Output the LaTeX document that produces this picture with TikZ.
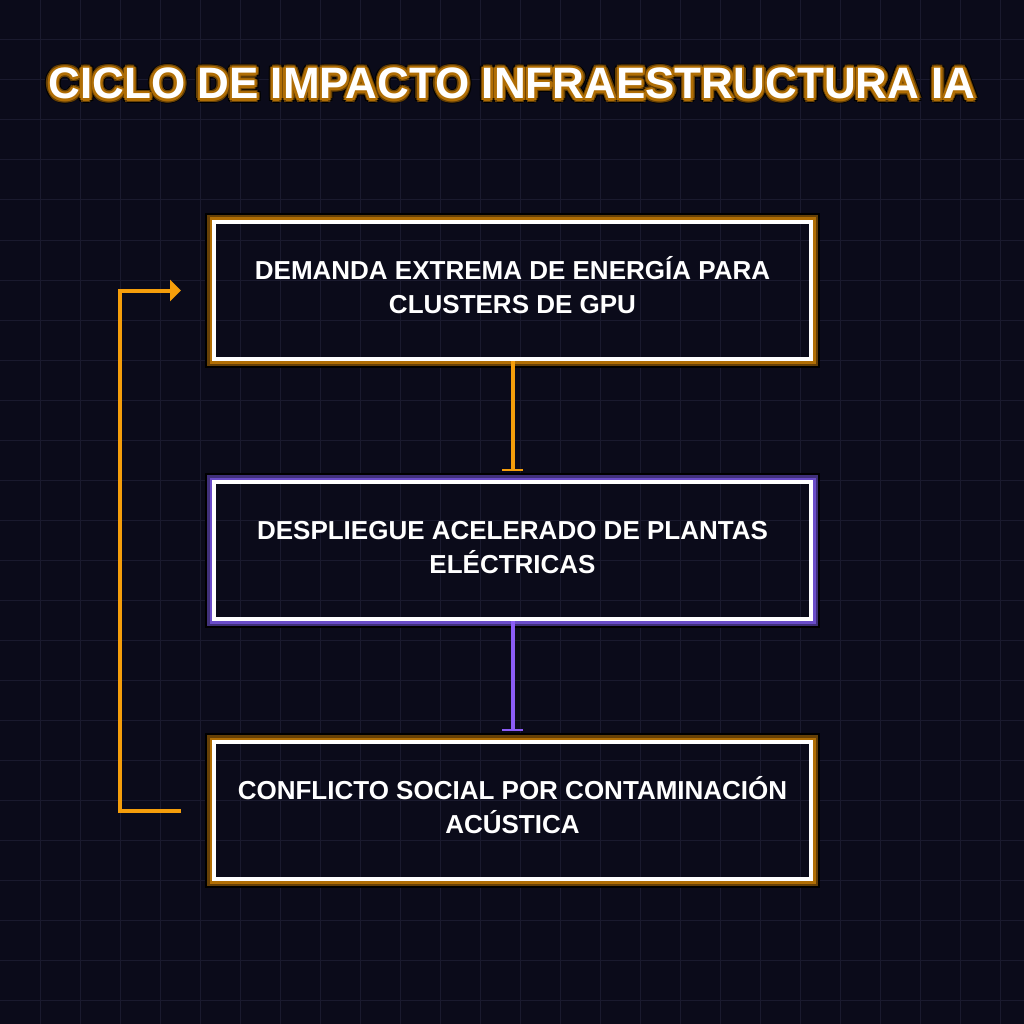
\documentclass[tikz,border=0pt]{standalone}
\usepackage{fontspec}
\setmainfont{Liberation Sans}
\usetikzlibrary{arrows.meta,positioning}

\definecolor{fondo}{HTML}{0B0B1A}
\definecolor{rejilla}{HTML}{1A1A2E}
\definecolor{ambar}{HTML}{F59E0B}
\definecolor{ambarmed}{HTML}{B06E05}
\definecolor{ambaroscuro}{HTML}{664006}
\definecolor{violeta}{HTML}{8B5CF6}
\definecolor{violetamed}{HTML}{6A4CC8}
\definecolor{violetaoscuro}{HTML}{40307A}

\tikzset{
  caja/.style={draw=white, line width=4pt, minimum width=597pt, minimum height=137pt,
    inner sep=0pt, text=white, align=center, text height=52pt, text depth=6.4pt,
    font=\bfseries\fontsize{26}{34}\selectfont},
  titulo/.style={font=\bfseries\fontsize{44}{50}\selectfont, anchor=base, inner sep=0pt},
  flecha/.style={line width=4pt, -{Bar[width=21pt,line width=2pt]}, shorten >=9pt},
}

\begin{document}
\begin{tikzpicture}[x=1pt,y=-1pt]
  \useasboundingbox (0,0) rectangle (1024,1024);
  \fill[fondo] (0,0) rectangle (1024,1024);
  \foreach \g in {40,80,...,1000} {
    \draw[rejilla, line width=1pt] (\g,0) -- (\g,1024);
    \draw[rejilla, line width=1pt] (0,\g) -- (1024,\g);
  }

  % title with halo
  \foreach \r/\c in {4.5/black, 3.5/ambaroscuro, 2.2/ambarmed} {
    \foreach \a in {0,30,...,330}
      \node[titulo, text=\c] (halo-\a) at ([shift={(\a:\r)}]512,99) {CICLO DE IMPACTO INFRAESTRUCTURA IA};
  }
  \node[titulo, text=white] (titulo) at (512,99) {CICLO DE IMPACTO INFRAESTRUCTURA IA};

  % boxes
  \node[caja] (demanda) at (512.5,290.5) {DEMANDA EXTREMA DE ENERGÍA PARA\\CLUSTERS DE GPU};
  \node[caja, below=119pt of demanda] (plantas) {DESPLIEGUE ACELERADO DE PLANTAS\\ELÉCTRICAS};
  \node[caja, below=119pt of plantas] (conflicto) {CONFLICTO SOCIAL POR CONTAMINACIÓN\\ACÚSTICA};

  % glow frames
  \foreach \b/\c/\d in {demanda/ambarmed/ambaroscuro, plantas/violetamed/violetaoscuro, conflicto/ambarmed/ambaroscuro} {
    \draw[black, line width=7pt] ([shift={(-3.5,-3.5)}]\b.north west) rectangle ([shift={(3.5,3.5)}]\b.south east);
    \draw[\d, line width=5pt] ([shift={(-2.5,-2.5)}]\b.north west) rectangle ([shift={(2.5,2.5)}]\b.south east);
    \draw[\c, line width=2.5pt] ([shift={(-1.25,-1.25)}]\b.north west) rectangle ([shift={(1.25,1.25)}]\b.south east);
  }

  % connectors
  \draw[flecha, ambar] (demanda.south) -- (plantas.north);
  \draw[flecha, violeta] (plantas.south) -- (conflicto.north);

  \coordinate (salida) at ([xshift=-31pt]conflicto.west);
  \coordinate (llegada) at ([xshift=-31pt]demanda.west);
  \draw[ambar, line width=4pt, -{Triangle[length=11pt,width=21pt]}] (salida) -- ++(-61,0) |- (llegada);
\end{tikzpicture}
\end{document}
